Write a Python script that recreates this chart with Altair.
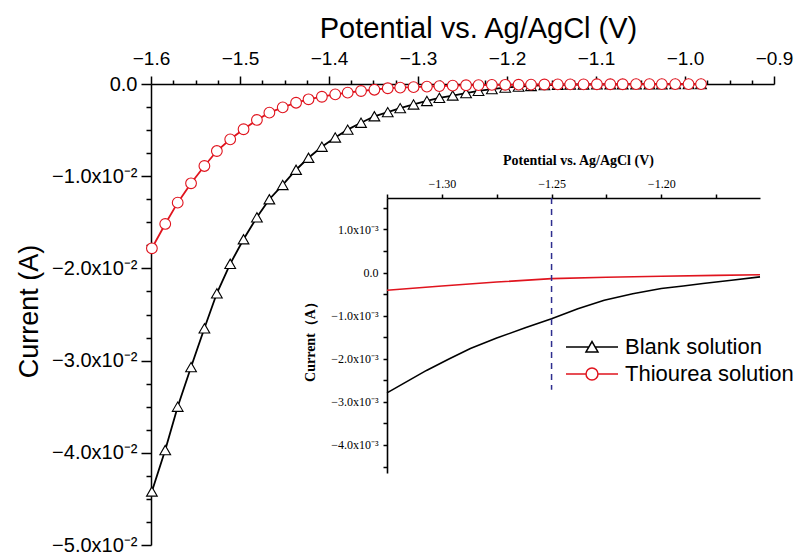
import altair as alt
import pandas as pd

# ---------------- data ----------------
series_names = ["Blank solution", "Thiourea solution"]
series_colors = ["#000000", "#e0141e"]

# marker positions (V vs. Ag/AgCl) of the main plot
potential = [-1.599, -1.584, -1.570, -1.555, -1.540, -1.526, -1.511, -1.496, -1.481,
             -1.467, -1.452, -1.437, -1.423, -1.408, -1.393, -1.379, -1.364, -1.349,
             -1.334, -1.320, -1.305, -1.290, -1.276, -1.261, -1.246, -1.232, -1.217,
             -1.202, -1.187, -1.173, -1.158, -1.143, -1.129, -1.114, -1.099, -1.084,
             -1.070, -1.055, -1.040, -1.026, -1.011, -0.996, -0.982]

# currents in units of 1e-2 A
blank_current_e2 = [-4.42, -3.97, -3.50, -3.07, -2.65, -2.27, -1.95, -1.684, -1.446,
                    -1.25, -1.095, -0.93, -0.80, -0.68, -0.58, -0.495, -0.42, -0.35,
                    -0.305, -0.262, -0.222, -0.184, -0.150, -0.125, -0.098, -0.075, -0.055,
                    -0.039, -0.029, -0.021, -0.012, -0.008, -0.006, -0.005, -0.004, -0.003,
                    -0.003, -0.002, -0.002, -0.002, -0.001, -0.001, -0.001]
thiourea_current_e2 = [-1.782, -1.518, -1.287, -1.077, -0.889, -0.727, -0.600, -0.491, -0.390,
                       -0.311, -0.253, -0.203, -0.166, -0.138, -0.112, -0.094, -0.076, -0.062,
                       -0.046, -0.039, -0.034, -0.028, -0.023, -0.018, -0.0135, -0.012, -0.010,
                       -0.0087, -0.0075, -0.0065, -0.0052, -0.0045, -0.0040, -0.0035, -0.0030, -0.0027,
                       -0.0024, -0.0020, -0.0018, -0.0015, -0.0012, -0.0010, -0.0008]

# inset (zoomed) curves, currents in units of 1e-3 A
inset_blank_potential = [-1.325, -1.316, -1.307, -1.297, -1.287, -1.275, -1.262, -1.250,
                         -1.238, -1.226, -1.213, -1.200, -1.190, -1.181, -1.168, -1.155]
inset_blank_current_e3 = [-2.79, -2.53, -2.27, -2.01, -1.76, -1.52, -1.28, -1.07,
                          -0.84, -0.64, -0.49, -0.37, -0.31, -0.255, -0.18, -0.10]
inset_thiourea_potential = [-1.325, -1.300, -1.275, -1.250, -1.225, -1.200, -1.175, -1.155]
inset_thiourea_current_e3 = [-0.41, -0.31, -0.22, -0.14, -0.11, -0.085, -0.065, -0.05]

# dashed marker line in the inset: potential, top and bottom current (A)
marker_potential = [-1.25]
marker_top = [1.73e-3]
marker_bottom = [-2.72e-3]

# axis ticks
main_x_major = [-1.6, -1.5, -1.4, -1.3, -1.2, -1.1, -1.0, -0.9]
main_x_minor = [-1.575, -1.55, -1.525, -1.475, -1.45, -1.425, -1.375, -1.35, -1.325,
                -1.275, -1.25, -1.225, -1.175, -1.15, -1.125, -1.075, -1.05, -1.025,
                -0.975, -0.95, -0.925]
main_y_major = [0.0, -0.01, -0.02, -0.03, -0.04, -0.05]
main_y_minor = [-0.0025, -0.005, -0.0075, -0.0125, -0.015, -0.0175, -0.0225, -0.025,
                -0.0275, -0.0325, -0.035, -0.0375, -0.0425, -0.045, -0.0475]
inset_x_ticks = [-1.325, -1.3, -1.275, -1.25, -1.225, -1.2, -1.175]
inset_y_ticks = [1.5e-3, 1.0e-3, 0.5e-3, 0.0, -0.5e-3, -1.0e-3, -1.5e-3, -2.0e-3, -2.5e-3,
                 -3.0e-3, -3.5e-3, -4.0e-3, -4.5e-3]

# legend symbols (line + marker)
legend_symbols = [
    "M-2,0L-0.24,0M0.24,0L2,0M-0.46,0.38L0,-0.42L0.46,0.38Z",
    "M-2,0L-0.46,0M0.46,0L2,0M0.46,0A0.46,0.46,0,1,1,-0.46,0A0.46,0.46,0,1,1,0.46,0Z",
]

# ---------------- tables ----------------
main_df = pd.DataFrame({
    "V": potential * 2,
    "I": [v * 1e-2 for v in blank_current_e2] + [v * 1e-2 for v in thiourea_current_e2],
    "series": [series_names[0]] * len(potential) + [series_names[1]] * len(potential),
})
inset_df = pd.DataFrame({
    "Vi": inset_blank_potential + inset_thiourea_potential,
    "Ii": [v * 1e-3 for v in inset_blank_current_e3] + [v * 1e-3 for v in inset_thiourea_current_e3],
    "series": [series_names[0]] * len(inset_blank_potential)
              + [series_names[1]] * len(inset_thiourea_potential),
})
marker_df = pd.DataFrame({"Vi": marker_potential, "top": marker_top, "bottom": marker_bottom})
legend_df = pd.DataFrame({"V": [-2.0, -2.0], "I": [0.0, 0.0], "series": series_names})

SANS = "Liberation Sans"
SERIF = "Liberation Serif"

sx = alt.Scale(domain=[-1.6, -0.9], nice=False, zero=False)
sy = alt.Scale(domain=[-0.05, 0.0], nice=False, zero=False)
color_scale = alt.Scale(domain=series_names, range=series_colors)

x_major_axis = alt.Axis(
    orient="top", values=main_x_major, format=".1f", grid=False,
    tickSize=8, tickWidth=1.5, tickColor="black", domainWidth=1.5, domainColor="black",
    labelFont=SANS, labelFontSize=19, labelColor="black", labelPadding=18,
    labelBaseline="middle", labelFlush=False, labelOverlap=False,
    title="Potential vs. Ag/AgCl (V)", titleFont=SANS, titleFontSize=29,
    titleFontWeight="normal", titleColor="black", titleX=327, titleY=-47,
    titleAlign="center", titleBaseline="alphabetic",
)
y_major_axis = alt.Axis(
    orient="left", values=main_y_major, grid=False,
    labelExpr="datum.value == 0 ? '0.0' : format(datum.value * 100, '.1f') + 'x10⁻²'",
    tickSize=10, tickWidth=1.5, tickColor="black", domainWidth=1.5, domainColor="black",
    labelFont=SANS, labelFontSize=20, labelColor="black", labelPadding=4,
    labelFlush=False, labelOverlap=False,
    title="Current (A)", titleFont=SANS, titleFontSize=27, titleFontWeight="normal",
    titleColor="black", titleAngle=270, titleX=-122, titleY=227,
    titleAlign="center", titleBaseline="middle",
)
x_minor_axis = alt.Axis(orient="top", values=main_x_minor, labels=False, domain=False,
                        grid=False, tickSize=4, tickWidth=1.5, tickColor="black", title=None)
y_minor_axis = alt.Axis(orient="left", values=main_y_minor, labels=False, domain=False,
                        grid=False, tickSize=5, tickWidth=1.5, tickColor="black", title=None)

base = alt.Chart(main_df)
lines = base.mark_line(strokeWidth=1.8).encode(
    x=alt.X("V:Q", scale=sx, axis=x_major_axis),
    y=alt.Y("I:Q", scale=sy, axis=y_major_axis),
    color=alt.Color("series:N", scale=color_scale, legend=None),
)
points = base.mark_point(filled=True, fill="white", opacity=1, strokeWidth=1.1, size=115).encode(
    x=alt.X("V:Q", scale=sx, axis=None),
    y=alt.Y("I:Q", scale=sy, axis=None),
    stroke=alt.Stroke("series:N", scale=color_scale, legend=None),
    shape=alt.Shape("series:N", scale=alt.Scale(domain=series_names, range=["triangle-up", "circle"]),
                    legend=None),
)
minor = base.mark_point(opacity=0).encode(
    x=alt.X("V:Q", scale=sx, axis=x_minor_axis),
    y=alt.Y("I:Q", scale=sy, axis=y_minor_axis),
)
legend_cfg = dict(
    orient="none", legendX=427, legendY=249, title=None, padding=0,
    labelFont=SANS, labelFontSize=22, labelColor="black", labelOffset=19, labelLimit=400,
    symbolSize=676, symbolStrokeWidth=1.5, symbolFillColor="white", rowPadding=2,
)
legend_layer = alt.Chart(legend_df).mark_point(
    filled=True, fill="white", opacity=1, strokeWidth=1.5, size=676, clip=True
).encode(
    x=alt.X("V:Q", scale=sx, axis=None),
    y=alt.Y("I:Q", scale=sy, axis=None),
    stroke=alt.Stroke("series:N", scale=color_scale, legend=alt.Legend(**legend_cfg)),
    shape=alt.Shape("series:N", scale=alt.Scale(domain=series_names, range=legend_symbols),
                    legend=alt.Legend(**legend_cfg)),
)

# ---------------- inset ----------------
six = alt.Scale(domain=[-1.325, -1.155], range=[236, 609], nice=False, zero=False)
siy = alt.Scale(domain=[-4.65e-3, 1.73e-3], range=[389, 114], nice=False, zero=False)

inset_x_axis = alt.Axis(
    orient="top", offset=-114, values=inset_x_ticks, grid=False,
    labelExpr="abs(datum.value * 20 - round(datum.value * 20)) < 0.001 ? format(datum.value, '.2f') : ''",
    tickSize=4, tickWidth=1.5, tickColor="black", domainWidth=1.6, domainColor="black",
    labelFont=SERIF, labelFontSize=12, labelColor="black", labelPadding=11,
    labelBaseline="middle", labelFlush=False, labelOverlap=False,
    title="Potential vs. Ag/AgCl (V)", titleFont=SERIF, titleFontSize=14,
    titleFontWeight="bold", titleColor="black", titleX=427, titleY=-38,
    titleAlign="center", titleBaseline="middle",
)
inset_y_axis = alt.Axis(
    orient="left", offset=-236, values=inset_y_ticks, grid=False,
    labelExpr=("abs(datum.value * 1000 - round(datum.value * 1000)) < 0.001 ? "
               "(abs(datum.value) < 1e-9 ? '0.0' : format(datum.value * 1000, '.1f') + 'x10⁻³') : ''"),
    tickSize=4, tickWidth=1.5, tickColor="black", domainWidth=1.6, domainColor="black",
    labelFont=SERIF, labelFontSize=12, labelColor="black", labelPadding=5,
    labelFlush=False, labelOverlap=False,
    title="Current（A）", titleFont=SERIF, titleFontSize=14, titleFontWeight="bold",
    titleColor="black", titleAngle=270, titleX=-77, titleY=254,
    titleAlign="center", titleBaseline="middle",
)

inset_lines = alt.Chart(inset_df).mark_line(strokeWidth=1.6).encode(
    x=alt.X("Vi:Q", scale=six, axis=inset_x_axis),
    y=alt.Y("Ii:Q", scale=siy, axis=inset_y_axis),
    color=alt.Color("series:N", scale=color_scale, legend=None),
)
inset_marker = alt.Chart(marker_df).mark_rule(
    color="#2e2e8f", strokeWidth=1.5, strokeDash=[6, 5]
).encode(
    x=alt.X("Vi:Q", scale=six, axis=None),
    y=alt.Y("top:Q", scale=siy, axis=None),
    y2="bottom:Q",
)

chart = alt.layer(
    lines, points, minor, legend_layer, inset_lines, inset_marker
).resolve_scale(
    x="independent", y="independent", stroke="independent", shape="independent"
).properties(
    width=623, height=461,
    padding={"left": 151, "top": 84, "right": 24, "bottom": 9},
    autosize=alt.AutoSizeParams(type="none"),
    background="white",
).configure_view(stroke=None)

chart.save("out.html", embed_options={"renderer": "svg", "actions": False})
